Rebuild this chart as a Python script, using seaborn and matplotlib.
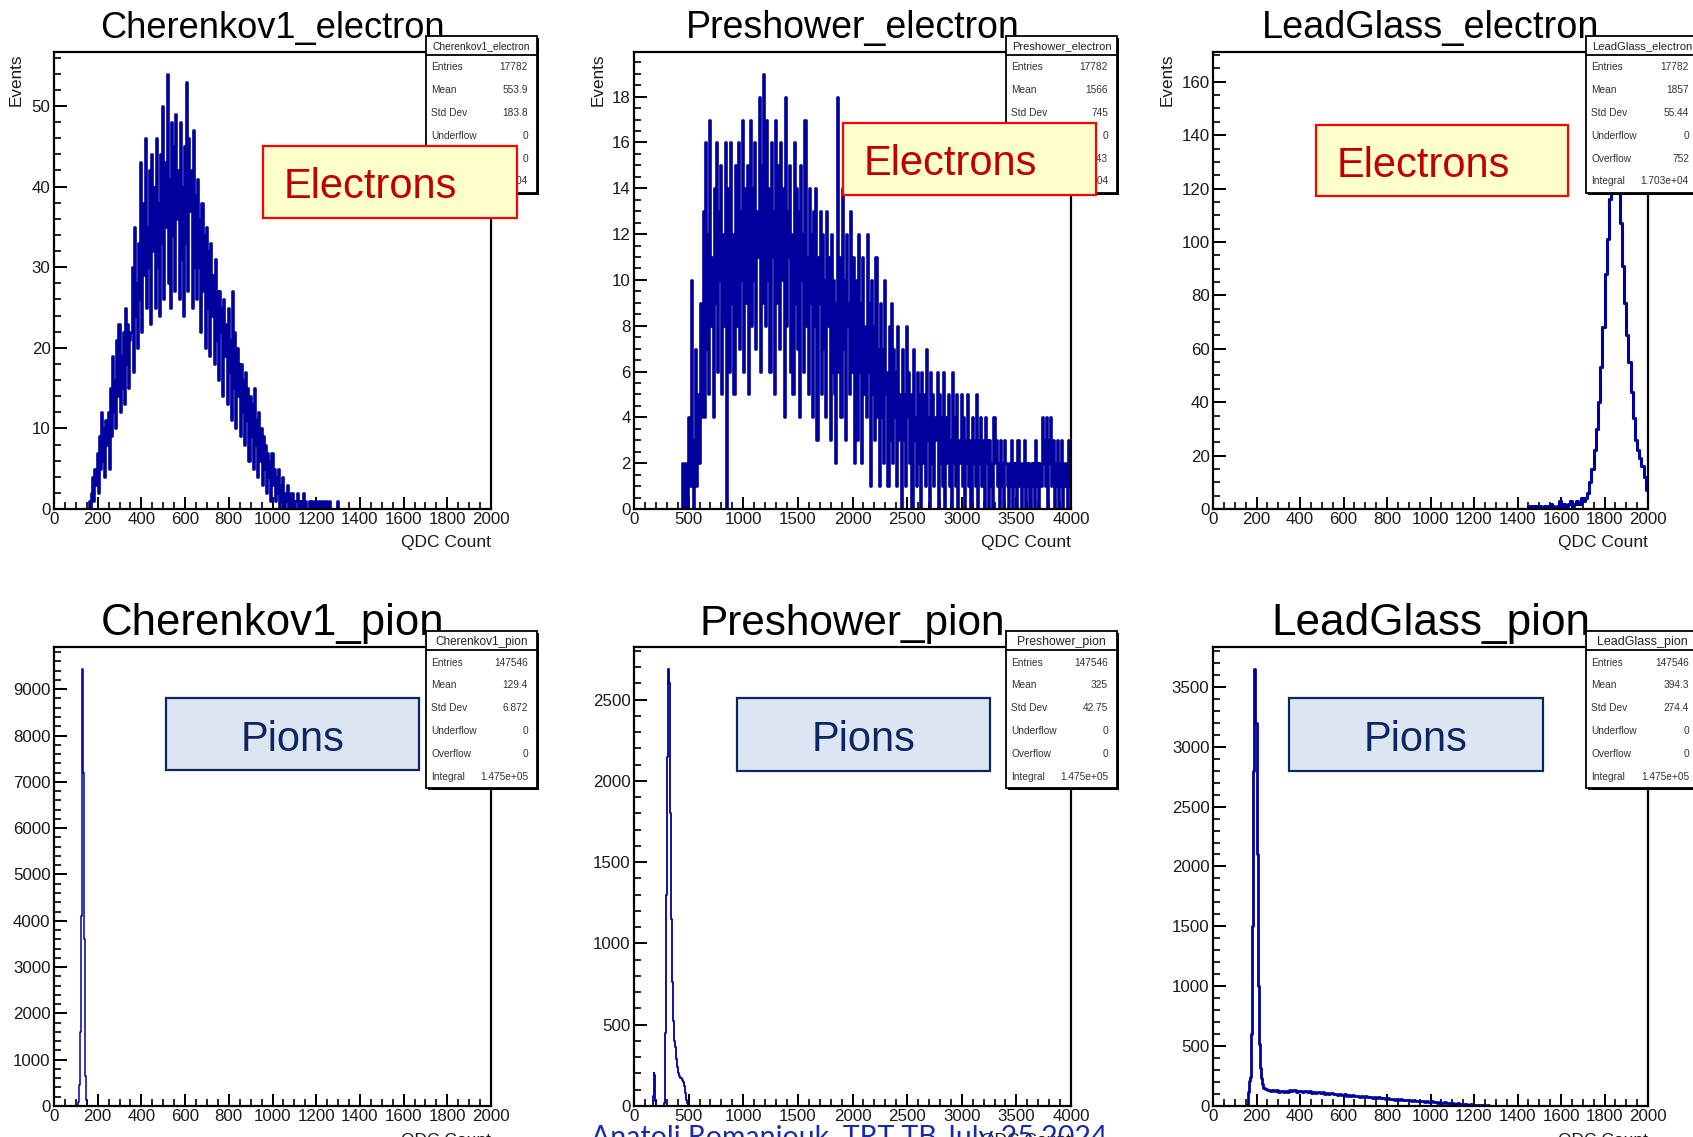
import numpy as np
import pandas as pd
import matplotlib
matplotlib.use("Agg")
import matplotlib.pyplot as plt
from matplotlib.patches import Rectangle
from matplotlib.lines import Line2D
from matplotlib.ticker import MultipleLocator, FuncFormatter
import seaborn as sns

# ---------------------------------------------------------------------------
# Histogram contents (bin contents per segment: start, bin width, counts)
# ---------------------------------------------------------------------------
x_label = "QDC Count"
y_label = "Events"

# Cherenkov1, electrons (5-count bins)
cher_e_start, cher_e_width = 150, 5
cher_e_counts = [
    0, 0, 1, 0, 2, 4, 1, 5, 3, 7, 2, 9, 5, 12, 6, 10, 4, 11, 8, 12,
    5, 15, 9, 19, 12, 16, 10, 21, 14, 23, 12, 19, 15, 22, 13, 25, 18, 23, 15, 21,
    22, 30, 17, 35, 24, 28, 20, 33, 26, 43, 22, 38, 29, 46, 25, 35, 30, 42, 23, 44,
    32, 40, 25, 46, 30, 38, 24, 44, 33, 50, 26, 43, 35, 54, 28, 41, 25, 48, 34, 45,
    27, 49, 36, 42, 26, 48, 31, 40, 24, 45, 33, 53, 27, 46, 37, 42, 25, 47, 30, 39,
    26, 41, 30, 36, 22, 38, 27, 34, 20, 35, 25, 32, 19, 33, 24, 29, 18, 31, 21, 27,
    16, 27, 22, 25, 14, 26, 19, 23, 13, 25, 17, 21, 11, 27, 15, 22, 10, 20, 14, 18,
    9, 18, 12, 16, 8, 17, 11, 15, 6, 14, 9, 13, 5, 15, 8, 11, 4, 12, 6, 10,
    3, 9, 5, 8, 2, 7, 4, 6, 1, 7, 3, 5, 1, 4, 2, 5, 0, 3, 1, 4,
    0, 2, 1, 3, 0, 2, 1, 0, 2, 1, 0, 1, 2, 0, 1, 0, 1, 0, 2, 0,
    1, 0, 0, 1, 0, 1, 0, 0, 1, 0, 1, 0, 0, 1, 0, 0, 1, 0, 0, 1,
    0, 0, 1, 0, 0, 0, 0, 0, 0, 1, 0,
]

# Preshower, electrons (10-count bins)
pre_e_start, pre_e_width = 440, 10
pre_e_counts = [
    2, 0, 1, 2, 0, 4, 2, 1, 10, 3, 0, 2, 7, 1, 5, 2, 9, 4, 6, 13,
    4, 16, 7, 12, 5, 17, 8, 11, 4, 14, 9, 16, 6, 13, 10, 15, 5, 12, 8, 16,
    0, 10, 14, 6, 16, 9, 12, 5, 15, 11, 8, 16, 7, 13, 10, 17, 6, 14, 9, 15,
    5, 12, 17, 8, 14, 10, 16, 7, 13, 11, 18, 6, 15, 9, 19, 12, 8, 17, 10, 14,
    6, 16, 11, 13, 5, 17, 9, 15, 12, 7, 16, 10, 14, 4, 18, 8, 13, 11, 15, 6,
    12, 5, 16, 9, 14, 7, 13, 4, 15, 10, 12, 6, 17, 8, 11, 5, 14, 9, 12, 4,
    13, 8, 14, 3, 11, 9, 13, 5, 12, 7, 10, 4, 13, 8, 11, 3, 12, 6, 10, 5,
    2, 9, 18, 6, 11, 4, 14, 7, 10, 3, 12, 8, 9, 5, 13, 6, 11, 2, 10, 7,
    3, 12, 6, 9, 2, 11, 5, 8, 4, 12, 6, 9, 1, 10, 5, 8, 3, 11, 4, 7,
    1, 9, 4, 7, 2, 10, 5, 6, 1, 8, 3, 9, 2, 7, 4, 6, 1, 8, 3, 5,
    0, 7, 3, 5, 1, 8, 4, 6, 2, 5, 0, 7, 3, 4, 1, 6, 2, 5, 0, 6,
    2, 5, 1, 7, 3, 4, 0, 6, 2, 5, 1, 4, 3, 6, 0, 5, 2, 4, 1, 6,
    0, 4, 2, 5, 1, 3, 0, 6, 2, 4, 1, 5, 0, 3, 2, 5, 1, 4, 0, 3,
    2, 5, 1, 3, 0, 4, 2, 3, 1, 5, 0, 3, 2, 4, 1, 3, 0, 4, 2, 3,
    0, 3, 1, 2, 0, 4, 2, 3, 1, 2, 0, 3, 1, 2, 0, 3, 2, 1, 0, 2,
    1, 3, 0, 2, 1, 2, 0, 3, 1, 2, 0, 1, 2, 3, 0, 2, 1, 2, 0, 2,
    1, 2, 0, 3, 1, 2, 0, 2, 1, 4, 2, 3, 1, 4, 0, 3, 2, 4, 1, 3,
    0, 2, 1, 3, 0, 2, 1, 3, 0, 2, 1, 2, 0, 3, 1, 2,
]

# LeadGlass, electrons (10-count bins)
lg_e_start, lg_e_width = 1440, 10
lg_e_counts = [
    0, 1, 0, 1, 0, 1, 1, 0, 1, 0,
    1, 2, 1, 0, 1, 3, 1, 2, 1, 2,
    3, 1, 2, 3, 2, 4, 3, 4, 6, 10,
    15, 22, 30, 40, 53, 68, 88, 101, 116, 141,
    163, 154, 126, 107, 91, 77, 65, 55, 44, 34,
    26, 22, 19, 16, 12, 7,
]

# Cherenkov1, pions
cher_pi_start, cher_pi_width = 110, 2
cher_pi_counts = [30, 80, 200, 450, 900, 1600, 2700, 4100, 5800, 7600,
                  9440, 8800, 7200, 5300, 3600, 2200, 1250, 650, 300, 130, 50]

# Preshower, pions (small pedestal spike + main peak)
pre_pi_spike_start, pre_pi_spike_width = 175, 5
pre_pi_spike_counts = [60, 204, 190, 120, 30, 0]
pre_pi_start, pre_pi_width = 270, 5
pre_pi_counts = [0, 20, 150, 450, 850, 1300, 1750, 2150, 2500, 2690,
                 2600, 2200, 1800, 1450, 1150, 950, 760, 620, 520, 450,
                 400, 360, 320, 290, 260, 240, 220, 205, 195, 185,
                 180, 175, 170, 165, 160, 155, 150, 140, 120, 100,
                 80, 55, 35, 20, 8]

# LeadGlass, pions (peak in fine bins, tail in coarser bins)
lg_pi_peak_start, lg_pi_peak_width = 150, 5
lg_pi_peak_counts = [0, 10, 120, 210, 240, 600, 1500, 2800, 3650, 3200,
                     2100, 1000, 520, 320, 230, 180]
lg_pi_tail_start, lg_pi_tail_width = 230, 10
lg_pi_tail_counts = [
    150, 138, 132, 126, 133, 124, 130, 121, 128, 119,
    126, 118, 131, 123, 133, 120, 128, 125, 117, 126,
    114, 122, 111, 120, 109, 116, 107, 114, 103, 110,
    100, 106, 97, 104, 94, 100, 91, 98, 87, 94,
    85, 90, 81, 86, 79, 84, 75, 80, 73, 78,
    69, 74, 66, 72, 63, 68, 59, 66, 57, 62,
    54, 60, 51, 56, 49, 54, 46, 50, 43, 48,
    41, 45, 39, 42, 36, 40, 34, 38, 31, 35,
    29, 32, 27, 30, 24, 27, 21, 24, 19, 21,
    16, 18, 14, 16, 11, 13, 9, 11, 7, 9,
    5, 6, 4, 5, 3, 3, 2, 2, 1, 1,
    0, 0,
]

# Statistics boxes
hist_names = ["Cherenkov1_electron", "Preshower_electron", "LeadGlass_electron",
              "Cherenkov1_pion", "Preshower_pion", "LeadGlass_pion"]
entries = ["17782", "17782", "17782", "147546", "147546", "147546"]
means = ["553.9", "1566", "1857", "129.4", "325", "394.3"]
std_devs = ["183.8", "745", "55.44", "6.872", "42.75", "274.4"]
underflows = ["0", "0", "0", "0", "0", "0"]
overflows = ["0", "343", "752", "0", "0", "0"]
integrals = ["1.778e+04", "1.744e+04", "1.703e+04", "1.475e+05", "1.475e+05", "1.475e+05"]

x_max = [2000, 4000, 2000, 2000, 4000, 2000]
x_major = [200, 500, 200, 200, 500, 200]
x_minor = [50, 100, 50, 50, 100, 50]
y_major = [10, 2, 20, 1000, 500, 500]
y_minor = [2, 0.5, 5, 200, 100, 100]

tag_labels = ["Electrons", "Electrons", "Electrons", "Pions", "Pions", "Pions"]
footer = "Anatoli Romaniouk, TRT TB July 25 2024"

# ---------------------------------------------------------------------------
# Styling
# ---------------------------------------------------------------------------
sns.set_style("ticks")
plt.rcParams["font.family"] = ["Liberation Sans", "DejaVu Sans"]
plt.rcParams["axes.linewidth"] = 1.6

LINE = "#00009C"
W, H = 1693, 1137
fig = plt.figure(figsize=(W / 100, H / 100), dpi=100)
fig.patch.set_facecolor("white")


def fx(x):
    return x / W


def fy(y):
    return 1 - y / H


def build_hist(segments, xmax):
    edges = [0.0]
    counts = []
    for start, width, vals in segments:
        if start > edges[-1]:
            counts.append(0)
            edges.append(float(start))
        for i, v in enumerate(vals):
            counts.append(v)
            edges.append(float(start + (i + 1) * width))
    if edges[-1] < xmax:
        counts.append(0)
        edges.append(float(xmax))
    return edges, np.array(counts, dtype=float)


hists = [
    build_hist([(cher_e_start, cher_e_width, cher_e_counts)], 2000),
    build_hist([(pre_e_start, pre_e_width, pre_e_counts)], 4000),
    build_hist([(lg_e_start, lg_e_width, lg_e_counts)], 2000),
    build_hist([(cher_pi_start, cher_pi_width, cher_pi_counts)], 2000),
    build_hist([(pre_pi_spike_start, pre_pi_spike_width, pre_pi_spike_counts),
                (pre_pi_start, pre_pi_width, pre_pi_counts)], 4000),
    build_hist([(lg_pi_peak_start, lg_pi_peak_width, lg_pi_peak_counts),
                (lg_pi_tail_start, lg_pi_tail_width, lg_pi_tail_counts)], 2000),
]

# the two noisy electron spectra use strokes wider than one bin so that
# neighbouring bins merge into a dense band
line_widths = [1.9, 1.9, 2.2, 1.1, 1.3, 2.0]

# pixel geometry of the six pads
col_x = [(54, 491), (634, 1071), (1213, 1648)]
row_y = [(52, 509), (647, 1106)]
title_sizes = [26.1, 27.0, 27.3, 31.5, 30.4, 31.8]
title_base = [38, 635]
events_x = [16, 598, 1167]
stat_x = [(426, 537), (1006, 1117), (1586, 1698)]
stat_y = [(36, 55, 193), (631, 650, 788)]
stat_row0 = [67.5, 662.5]
header_sizes = [7.4, 8.0, 8.1, 8.5, 8.8, 9.0]
tag_boxes = [(263, 517, 146, 218), (843, 1096, 123, 195), (1316, 1568, 125, 196),
             (166, 419, 698, 770), (737, 990, 698, 771), (1289, 1543, 698, 771)]

fmt = FuncFormatter(lambda v, p: f"{v:g}")

for k in range(6):
    r, c = divmod(k, 3)
    x0, x1 = col_x[c]
    y0, y1 = row_y[r]
    ax = fig.add_axes([fx(x0), fy(y1), (x1 - x0) / W, (y1 - y0) / H])
    ax.set_facecolor("white")

    edges, counts = hists[k]
    centers = 0.5 * (np.array(edges[:-1]) + np.array(edges[1:]))
    df = pd.DataFrame({"qdc": centers, "events": counts})
    sns.histplot(data=df, x="qdc", weights="events", bins=edges,
                 element="step", fill=False, color=LINE,
                 linewidth=line_widths[k], ax=ax)

    ax.set_xlim(0, x_max[k])
    ax.set_ylim(0, 1.05 * counts.max())
    ax.set_xlabel("")
    ax.set_ylabel("")
    ax.xaxis.set_major_locator(MultipleLocator(x_major[k]))
    ax.xaxis.set_minor_locator(MultipleLocator(x_minor[k]))
    ax.yaxis.set_major_locator(MultipleLocator(y_major[k]))
    ax.yaxis.set_minor_locator(MultipleLocator(y_minor[k]))
    ax.xaxis.set_major_formatter(fmt)
    ax.yaxis.set_major_formatter(fmt)
    ax.tick_params(which="both", direction="in", top=False, right=False,
                   colors="black", labelcolor="#1a1a1a")
    ax.tick_params(which="major", length=9, width=1.4, labelsize=12.2)
    ax.tick_params(which="minor", length=4.7, width=1.2)
    ax.tick_params(axis="x", which="major", pad=2)
    ax.tick_params(axis="y", which="major", pad=2.5)
    for s in ax.spines.values():
        s.set_visible(True)
        s.set_color("black")
        s.set_linewidth(1.6)

    # pad title
    fig.text(fx((x0 + x1) / 2), fy(title_base[r]), hist_names[k], ha="center",
             va="baseline", fontsize=title_sizes[k], color="black", zorder=5)

    # axis titles
    fig.text(fx(x1), fy(y1 + 34), x_label, ha="right", va="center",
             fontsize=12.5, color="#1a1a1a", zorder=5)
    if r == 0:
        fig.text(fx(events_x[c]), fy(y0 + 2), y_label, rotation=90, ha="center",
                 va="top", fontsize=12.3, color="#1a1a1a", zorder=5)

    # statistics box
    sx0, sx1 = stat_x[c]
    st, sh, sb = stat_y[r]
    fig.add_artist(Rectangle((fx(sx0 + 2), fy(sb + 2)), (sx1 - sx0) / W, (sb - st) / H,
                             transform=fig.transFigure, facecolor="black",
                             edgecolor="none", zorder=9))
    fig.add_artist(Rectangle((fx(sx0), fy(sb)), (sx1 - sx0) / W, (sb - st) / H,
                             transform=fig.transFigure, facecolor="white",
                             edgecolor="black", linewidth=1.3, zorder=10))
    fig.add_artist(Line2D([fx(sx0), fx(sx1)], [fy(sh), fy(sh)],
                          transform=fig.transFigure, color="black", lw=1.3, zorder=11))
    fig.text(fx((sx0 + sx1) / 2), fy((st + sh) / 2 + 1), hist_names[k], ha="center",
             va="center", fontsize=header_sizes[k], color="#222222", zorder=12)
    rows = [("Entries", entries[k]), ("Mean", means[k]), ("Std Dev", std_devs[k]),
            ("Underflow", underflows[k]), ("Overflow", overflows[k]),
            ("Integral", integrals[k])]
    for i, (lab, val) in enumerate(rows):
        yy = stat_row0[r] + i * 22.8
        fig.text(fx(sx0 + 5), fy(yy), lab, ha="left", va="center",
                 fontsize=7.3, color="#333333", zorder=12)
        fig.text(fx(sx1 - 9), fy(yy), val, ha="right", va="center",
                 fontsize=7.3, color="#333333", zorder=12)

    # particle tag
    bx0, bx1, by0, by1 = tag_boxes[k]
    if r == 0:
        face, edge, tcol = "#FFFFCC", "#FF0000", "#C00000"
    else:
        face, edge, tcol = "#DCE6F2", "#0D2660", "#0D2660"
    fig.add_artist(Rectangle((fx(bx0), fy(by1)), (bx1 - bx0) / W, (by1 - by0) / H,
                             transform=fig.transFigure, facecolor=face,
                             edgecolor=edge, linewidth=1.6, zorder=20))
    if r == 0:
        fig.text(fx(bx0 + 21), fy(by0 + 52), tag_labels[k], ha="left", va="baseline",
                 fontsize=30, color=tcol, zorder=21)
    else:
        fig.text(fx((bx0 + bx1) / 2), fy(by0 + 53), tag_labels[k], ha="center",
                 va="baseline", fontsize=30, color=tcol, zorder=21)

# author footer along the bottom edge
foot = fig.text(fx(591), fy(1146), footer, ha="left", va="baseline",
                fontsize=20, color="#1A2AA6", family=["Lato", "DejaVu Sans"], zorder=30)
fig.canvas.draw()
wpx = foot.get_window_extent(renderer=fig.canvas.get_renderer()).width
foot.set_fontsize(20 * 516 / wpx)

fig.savefig("out.png", dpi=100)
